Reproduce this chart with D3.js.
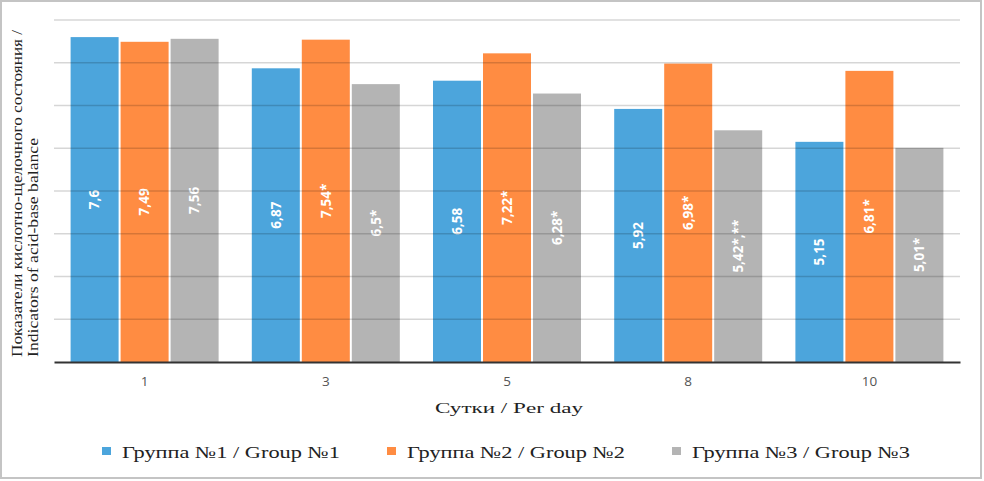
<!DOCTYPE html>
<html><head><meta charset="utf-8">
<script src="https://cdn.jsdelivr.net/npm/d3@7"></script>
<style>html,body{margin:0;padding:0;background:#fff;}svg{display:block;}</style>
</head><body>
<script>
const categories = ["1", "3", "5", "8", "10"];
const seriesNames = ["Группа №1 / Group №1", "Группа №2 / Group №2", "Группа №3 / Group №3"];
const group1 = [7.6, 6.87, 6.58, 5.92, 5.15];
const group2 = [7.49, 7.54, 7.22, 6.98, 6.81];
const group3 = [7.56, 6.5, 6.28, 5.42, 5.01];
const labels1 = ["7,6", "6,87", "6,58", "5,92", "5,15"];
const labels2 = ["7,49", "7,54*", "7,22*", "6,98*", "6,81*"];
const labels3 = ["7,56", "6,5*", "6,28*", "5,42*,**", "5,01*"];
const yTicks = [0, 1, 2, 3, 4, 5, 6, 7, 8];
const colors = ["#4ca5dc", "#ff8c42", "#b4b4b4"];

const W = 984, H = 481;
const svg = d3.select("body").append("svg").attr("width", W).attr("height", H);
svg.append("rect").attr("x", 1).attr("y", 1).attr("width", W - 4).attr("height", H - 4)
  .attr("fill", "#fff").attr("stroke", "#c4c4c4").attr("stroke-width", 2);

const x0 = d3.scaleBand().domain(categories).range([54, 960]).paddingInner(0).paddingOuter(0);
const seriesIdx = [0, 1, 2];
const groupW = 148;
const x1 = d3.scaleBand().domain(seriesIdx).range([0, groupW]).paddingInner(0.04);
const y = d3.scaleLinear().domain([0, 8]).range([362, 20]);

const data = categories.map((c, i) => ({
  cat: c,
  vals: [
    {s: 0, v: group1[i], l: labels1[i]},
    {s: 1, v: group2[i], l: labels2[i]},
    {s: 2, v: group3[i], l: labels3[i]}
  ]
}));

const g = svg.append("g");
const groups = g.selectAll("g.cat").data(data).enter().append("g")
  .attr("transform", d => `translate(${x0(d.cat) + (x0.bandwidth() - groupW) / 2},0)`);
groups.selectAll("rect").data(d => d.vals).enter().append("rect")
  .attr("x", d => x1(d.s)).attr("width", x1.bandwidth())
  .attr("y", d => y(d.v)).attr("height", d => y(0) - y(d.v))
  .attr("fill", d => colors[d.s]);

// gridlines over bars (semi-transparent)
svg.append("g").selectAll("line").data(yTicks.filter(t => t > 0)).enter().append("line")
  .attr("x1", 54).attr("x2", 960).attr("y1", d => y(d)).attr("y2", d => y(d))
  .attr("stroke", "#000").attr("stroke-opacity", 0.16).attr("stroke-width", 1.5);

// value labels
groups.selectAll("text").data(d => d.vals).enter().append("text")
  .attr("transform", d => `translate(${x1(d.s) + x1.bandwidth() / 2},${(y(d.v) + y(0)) / 2}) rotate(-90)`)
  .attr("text-anchor", "middle").attr("dy", "0.35em")
  .attr("font-family", "'Open Sans', sans-serif").attr("font-weight", "bold")
  .attr("font-size", 13.5).attr("fill", "#fff").text(d => d.l);

// baseline / x axis
const xAxis = d3.axisBottom(x0).tickSize(0).tickPadding(14);
const ax = svg.append("g").attr("transform", `translate(0,${y(0)})`).call(xAxis);
ax.select(".domain").attr("stroke", "#333").attr("stroke-width", 2);
ax.selectAll("text").attr("font-family", "'Open Sans', sans-serif").attr("font-size", 13.5)
  .attr("fill", "#555");

// axis titles
svg.append("text").attr("x", 435).attr("y", 413)
  .attr("font-family", "'Liberation Serif', serif").attr("font-size", 14.5)
  .attr("textLength", 148).attr("lengthAdjust", "spacingAndGlyphs")
  .attr("fill", "#222").text("Сутки / Per day");

const yt = svg.append("text").attr("transform", "translate(0,357) rotate(-90)")
  .attr("font-family", "'Liberation Serif', serif").attr("font-size", 15)
  .attr("fill", "#222");
yt.append("tspan").attr("x", 0).attr("y", 22).attr("textLength", 327).attr("lengthAdjust", "spacingAndGlyphs")
  .text("Показатели кислотно-щелочного состояния /");
yt.append("tspan").attr("x", 0).attr("y", 38).attr("textLength", 219).attr("lengthAdjust", "spacingAndGlyphs")
  .text("Indicators of acid-base balance");

// legend
const legendX = [102, 387, 672];
const lg = svg.append("g").selectAll("g").data(seriesNames).enter().append("g")
  .attr("transform", (d, i) => `translate(${legendX[i]},451)`);
lg.append("rect").attr("x", 0).attr("y", -4).attr("width", 9).attr("height", 8)
  .attr("fill", (d, i) => colors[i]);
lg.append("text").attr("x", 20).attr("y", 6.5)
  .attr("font-family", "'Liberation Serif', serif").attr("font-size", 17)
  .attr("textLength", 218).attr("lengthAdjust", "spacingAndGlyphs")
  .attr("fill", "#222").text(d => d);
</script>
</body></html>
